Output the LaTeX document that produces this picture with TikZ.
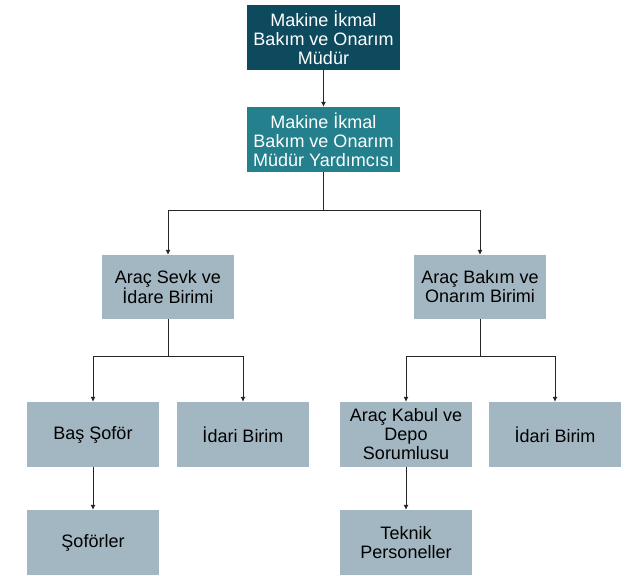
\documentclass[tikz,border=0pt]{standalone}
\usepackage{fontspec}
\setmainfont{Liberation Sans}
\usetikzlibrary{arrows.meta}
\definecolor{cdark}{HTML}{0E4A5E}
\definecolor{cmid}{HTML}{23808C}
\definecolor{clight}{HTML}{A3B7C2}
\begin{document}
\begin{tikzpicture}[x=1pt,y=-1pt,
  box/.style={inner sep=0pt,align=center,font=\fontsize{18}{19}\selectfont},
  lbox/.style={box,fill=clight,text=black},
  conn/.style={draw=black!85,line width=0.8pt},
  arr/.style={conn,-{Latex[length=5pt,width=5pt]}}]
\useasboundingbox (0,0) rectangle (644,575);
\node[box,fill=cdark,text=white,minimum width=153pt,minimum height=65pt] (top) at (323.5,37.5) {Makine İkmal\\Bakım ve Onarım\\Müdür};
\node[box,fill=cmid,text=white,minimum width=153pt,minimum height=65pt] (dep) at (323.5,139.5) {Makine İkmal\\Bakım ve Onarım\\Müdür Yardımcısı};
\node[lbox,minimum width=132pt,minimum height=64pt] (sevk) at (168,287) {Araç Sevk ve\\İdare Birimi};
\node[lbox,minimum width=132pt,minimum height=64pt] (bakim) at (480,287) {Araç Bakım ve\\Onarım Birimi};
\node[lbox,minimum width=132pt,minimum height=65pt] (bas) at (93,434.5) {Baş Şoför};
\node[lbox,minimum width=132pt,minimum height=65pt] (idl) at (243,434.5) {İdari Birim};
\node[lbox,minimum width=132pt,minimum height=65pt] (kabul) at (406,434.5) {Araç Kabul ve\\Depo\\Sorumlusu};
\node[lbox,minimum width=132pt,minimum height=65pt] (idr) at (555,434.5) {İdari Birim};
\node[lbox,minimum width=132pt,minimum height=65pt] (sof) at (93,542.5) {Şoförler};
\node[lbox,minimum width=132pt,minimum height=65pt] (tek) at (406,542.5) {Teknik\\Personeller};
\draw[arr] (top) -- (dep);
\draw[arr] (dep.south) -- ++(0,38) -| (sevk.north);
\draw[arr] (dep.south) -- ++(0,38) -| (bakim.north);
\draw[arr] (sevk.south) -- ++(0,37) -| (bas.north);
\draw[arr] (sevk.south) -- ++(0,37) -| (idl.north);
\draw[arr] (bakim.south) -- ++(0,37) -| (kabul.north);
\draw[arr] (bakim.south) -- ++(0,37) -| (idr.north);
\draw[arr] (bas) -- (sof);
\draw[arr] (kabul) -- (tek);
\end{tikzpicture}
\end{document}
